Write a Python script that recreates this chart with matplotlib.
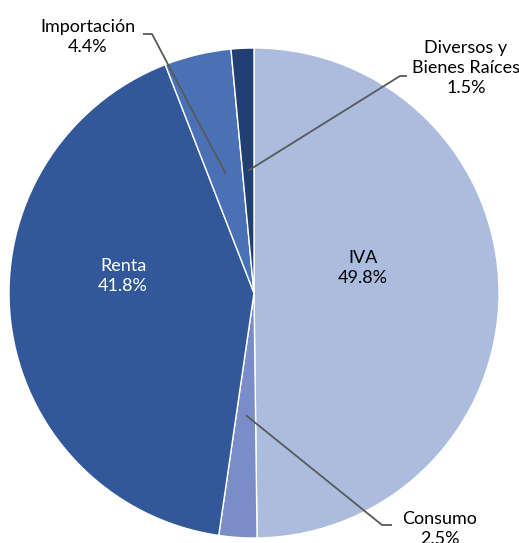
import matplotlib

matplotlib.use("Agg")

import matplotlib.pyplot as plt
import numpy as np

plt.rcParams["font.family"] = ["Lato", "DejaVu Sans"]

labels = ["IVA", "Consumo", "Renta", "Importación", "Diversos y\nBienes Raíces"]
shares = [49.8, 2.5, 41.8, 4.4, 1.5]
colors = ["#ABBCDE", "#7B8DC8", "#335899", "#4A70B6", "#223F73"]

# pixel geometry of the reference
W, H = 519, 543
CX, CY, R = 254, 293, 245


def px(x, y):
    return (x - CX) / R, (CY - y) / R


fig = plt.figure(figsize=(W / 100, H / 100), dpi=100)
ax = fig.add_axes([0, 0, 1, 1])
wedges, _ = ax.pie(
    shares,
    colors=colors,
    startangle=90,
    counterclock=False,
    radius=1,
    center=(0, 0),
    wedgeprops={"edgecolor": "white", "linewidth": 1.0},
)
ax.set_xlim(px(0, 0)[0], px(W, 0)[0])
ax.set_ylim(px(0, H)[1], px(0, 0)[1])
ax.set_aspect("equal")
ax.axis("off")

fs = 13
lsp = 1.3
# inside labels
x, y = px(363, 268)
ax.text(x, y, f"{labels[0]}\n{shares[0]:.1f}%", ha="center", va="center",
        fontsize=fs, color="black", linespacing=lsp)
x, y = px(123, 276)
ax.text(x, y, f"{labels[2]}\n{shares[2]:.1f}%", ha="center", va="center",
        fontsize=fs, color="white", linespacing=lsp)

# outside labels with leader lines
cum = np.cumsum([0] + shares)
mid = 90 - (cum[:-1] + np.array(shares) / 2) * 3.6
line_kw = dict(color="#595959", lw=1.3, solid_capstyle="butt")

outside = {
    1: {"text": (440, 529), "knee": (382, 525), "end": (392, 525)},
    3: {"text": (88, 37), "knee": (152, 34), "end": (143, 34)},
    4: {"text": (466, 68), "knee": (400, 76), "end": (407, 76)},
}
for i, o in outside.items():
    a = np.deg2rad(mid[i])
    p0 = (0.5 * np.cos(a), 0.5 * np.sin(a))
    k = px(*o["knee"])
    e = px(*o["end"])
    ax.plot([p0[0], k[0], e[0]], [p0[1], k[1], e[1]], **line_kw)
    tx, ty = px(*o["text"])
    ax.text(tx, ty, f"{labels[i]}\n{shares[i]:.1f}%", ha="center", va="center",
            fontsize=fs, color="black", linespacing=lsp)

fig.savefig("out.png", dpi=100)
